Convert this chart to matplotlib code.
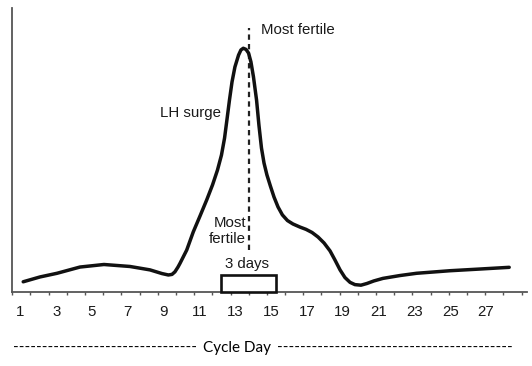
import numpy as np
import matplotlib
matplotlib.use("Agg")
import matplotlib.pyplot as plt
from matplotlib.patches import Rectangle

# ---- data ----
day = [1.10, 2.02, 2.96, 4.22, 5.54, 6.97, 8.07, 8.73, 9.08, 9.28, 9.44, 9.61,
       9.72, 10.09, 10.45, 10.82, 11.19, 11.51, 11.78, 12.00, 12.17, 12.30, 12.44,
       12.58, 12.74, 12.94, 13.07, 13.20, 13.35, 13.49, 13.62, 13.76, 13.93, 14.06,
       14.20, 14.34, 14.50, 14.69, 14.89, 15.11, 15.35, 15.63, 15.93, 16.32, 16.65,
       16.98, 17.31, 17.64, 17.97, 18.24, 18.52, 18.79, 19.07, 19.34, 19.67, 20.00,
       20.38, 20.88, 21.81, 22.73, 24.56, 26.21, 27.82]
lh_level = [3.5, 5.2, 6.5, 8.7, 9.6, 8.9, 7.7, 6.4, 5.9, 6.1, 7.0, 8.7,
            10.0, 14.7, 21.1, 26.7, 32.4, 37.7, 42.9, 48.2, 54.2, 60.6, 67.6,
            74.0, 79.3, 83.5, 85.3, 85.9, 85.5, 84.2, 81.1, 75.8, 67.6, 58.8,
            50.7, 45.4, 41.2, 37.3, 33.4, 29.9, 27.1, 25.1, 23.9, 22.8, 22.0,
            20.9, 19.3, 17.2, 14.4, 11.2, 7.7, 5.0, 3.3, 2.5, 2.3, 2.9,
            3.8, 4.7, 5.7, 6.5, 7.4, 8.0, 8.6]
tick_days = [1, 3, 5, 7, 9, 11, 13, 15, 17, 19, 21, 23, 25, 27]
tick_labels = [str(d) for d in tick_days]
most_fertile_day = 13.5
fertile_window = (12, 15)
window_height = 5.9
dash_range = (14.7, 93.0)

fig = plt.figure(figsize=(5.32, 3.66), dpi=100)
ax = fig.add_axes([0.02312, 0.2030, 0.9675, 0.7743])
ax.set_xlim(0.5, 28.8)
ax.set_ylim(0, 100)

for s in ["top", "right"]:
    ax.spines[s].set_visible(False)
for s in ["left", "bottom"]:
    ax.spines[s].set_color("#555555")
    ax.spines[s].set_linewidth(1.3)

ax.plot(day, lh_level, color="#111111", lw=2.5, solid_capstyle="round",
        solid_joinstyle="round", zorder=3)

ax.plot([most_fertile_day, most_fertile_day], dash_range, color="#222222",
        lw=1.6, dashes=[2.4, 1.9], zorder=2)

ax.add_patch(Rectangle((fertile_window[0], 0), fertile_window[1] - fertile_window[0],
                       window_height, facecolor="white", edgecolor="#111111",
                       lw=1.9, clip_on=False, zorder=4))

# ticks: marks at day boundaries, labels at days
ax.set_xticks(np.arange(0.5, 28.6, 1.0), minor=True)
label_pos = [0.94 + (d - 1) * 0.985 for d in tick_days]
ax.set_xticks(label_pos)
ax.set_xticklabels(tick_labels)
ax.set_yticks([])
ax.tick_params(axis="x", which="minor", length=2.4, width=1.0, color="#555555",
               direction="out")
ax.tick_params(axis="x", which="major", length=0, pad=9.5, labelsize=10.8,
               labelcolor="#1a1a1a")
for lab in ax.get_xticklabels():
    lab.set_family(["Liberation Sans", "DejaVu Sans"])

tf = dict(family=["Liberation Sans", "DejaVu Sans"], fontsize=10.8, color="#1a1a1a")
ax.text(14.20, 92.3, "Most fertile", ha="left", va="center", **tf)
ax.text(11.96, 63.1, "LH surge", ha="right", va="center", **tf)
ax.text(13.35, 21.4, "Most\nfertile", ha="right", va="center",
        multialignment="right", linespacing=1.15, **tf)
ax.text(13.40, 9.7, "3 days", ha="center", va="center", **tf)

# bottom caption
cf = dict(family=["Lato", "DejaVu Sans"], fontsize=11, color="black", va="center")
yc = 1 - 348 / 366
fig.text(197 / 532, yc, "-" * 32, ha="right", **cf)
fig.text(237 / 532, yc, "Cycle Day", ha="center", **cf)
fig.text(277 / 532, yc, "-" * 41, ha="left", **cf)

fig.savefig("out.png", dpi=100)
